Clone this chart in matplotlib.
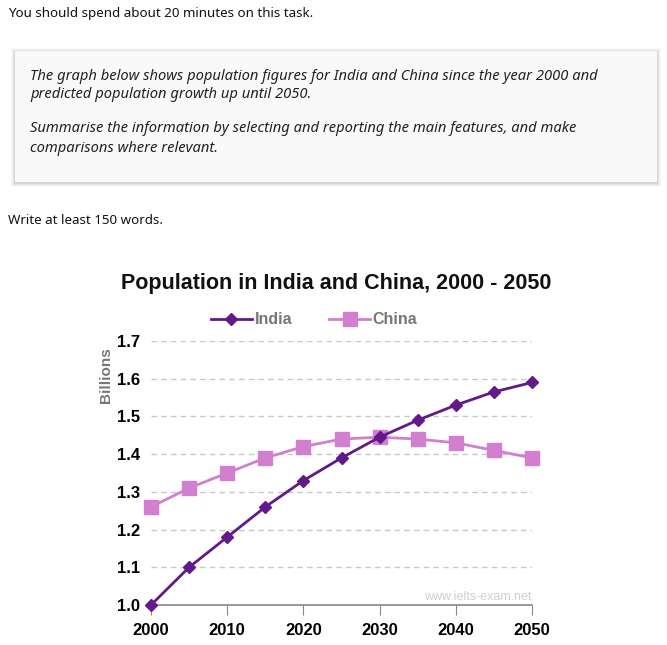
import matplotlib
matplotlib.use("Agg")
import matplotlib.pyplot as plt
from matplotlib.patches import Rectangle

years = [2000, 2005, 2010, 2015, 2020, 2025, 2030, 2035, 2040, 2045, 2050]
india = [1.00, 1.10, 1.18, 1.26, 1.33, 1.39, 1.445, 1.49, 1.53, 1.565, 1.59]
china = [1.26, 1.31, 1.35, 1.39, 1.42, 1.44, 1.445, 1.44, 1.43, 1.41, 1.39]
yticks = [1.0, 1.1, 1.2, 1.3, 1.4, 1.5, 1.6, 1.7]
xticks = [2000, 2010, 2020, 2030, 2040, 2050]

W, H = 667, 645
fig = plt.figure(figsize=(W / 100, H / 100), dpi=100)
fig.patch.set_facecolor("white")

def px(x, y):
    return x / W, 1 - y / H

body_font = "Noto Sans"

# header text
fig.text(*px(8, 14), "You should spend about 20 minutes on this task.",
         fontsize=9.6, family=body_font, va="center", ha="left", color="#111111")

# task box with a soft shadow
for off, a in [(4, 0.025), (3, 0.035), (2, 0.045), (1, 0.06)]:
    fig.patches.append(Rectangle(px(15 - off, 183 + off), (642 + 2 * off) / W, (131 + 2 * off) / H,
                                 transform=fig.transFigure, facecolor="black", alpha=a,
                                 edgecolor="none", zorder=0))
fig.patches.append(Rectangle(px(15, 182), 642 / W, 131 / H, transform=fig.transFigure,
                             facecolor="#f9f9f9", edgecolor="none", zorder=1))

box_lines = [
    (76, "The graph below shows population figures for India and China since the year 2000 and"),
    (95, "predicted population growth up until 2050."),
    (129, "Summarise the information by selecting and reporting the main features, and make"),
    (148, "comparisons where relevant."),
]
for yy, s in box_lines:
    fig.text(*px(30, yy), s, fontsize=10.6, family=body_font, style="italic",
             weight="semibold", va="center", ha="left", color="#222222", zorder=2)

fig.text(*px(8, 221), "Write at least 150 words.",
         fontsize=9.6, family=body_font, va="center", ha="left", color="#111111")

# chart
left, top = px(151, 341)
right, bottom = px(532, 605)
ax = fig.add_axes([left, bottom, right - left, top - bottom])
ax.set_xlim(2000, 2050)
ax.set_ylim(1.0, 1.7)

for v in yticks[1:]:
    ax.axhline(v, color="#c8c8c8", lw=1, ls=(0, (4, 3)), zorder=1)

ax.plot(years, china, color="#d17fce", lw=2, marker="s", ms=10,
        label="China", zorder=3, clip_on=False)
ax.plot(years, india, color="#62198a", lw=2, marker="D", ms=6.5,
        label="India", zorder=4, clip_on=False)

for s in ["top", "right", "left"]:
    ax.spines[s].set_visible(False)
ax.spines["bottom"].set_color("#888888")
ax.spines["bottom"].set_linewidth(1.2)

ax.set_xticks(xticks)
ax.set_xticklabels([str(x) for x in xticks], fontsize=12, fontweight="bold",
                   family="Liberation Sans")
ax.set_yticks(yticks)
ax.set_yticklabels([f"{v:.1f}" for v in yticks], fontsize=12, fontweight="bold",
                   family="Liberation Sans")
ax.tick_params(axis="x", length=7, color="#888888", pad=6)
ax.tick_params(axis="y", length=0, pad=8)
ax.set_ylabel("Billions", fontsize=11, fontweight="bold", color="#777777",
              family="Liberation Sans")
ax.yaxis.set_label_coords(-0.1, 0.87)

fig.text(*px(336, 283), "Population in India and China, 2000 - 2050", fontsize=15.5,
         fontweight="bold", family="Liberation Sans", ha="center", va="center",
         color="#111111")

h, l = ax.get_legend_handles_labels()
leg = fig.legend(h[::-1], l[::-1], loc="center", bbox_to_anchor=px(314, 320),
                 ncol=2, frameon=False, handlelength=2.6,
                 columnspacing=2.3, handletextpad=0.15,
                 prop={"family": "Liberation Sans", "weight": "bold", "size": 11.5})
for t in leg.get_texts():
    t.set_color("#777777")

ax.text(2050, 1.0 + 0.004, "www.ielts-exam.net", ha="right", va="bottom",
        fontsize=9, color="#cfcfcf", family="Liberation Sans", zorder=2)

fig.savefig("out.png", dpi=100, facecolor="white")
